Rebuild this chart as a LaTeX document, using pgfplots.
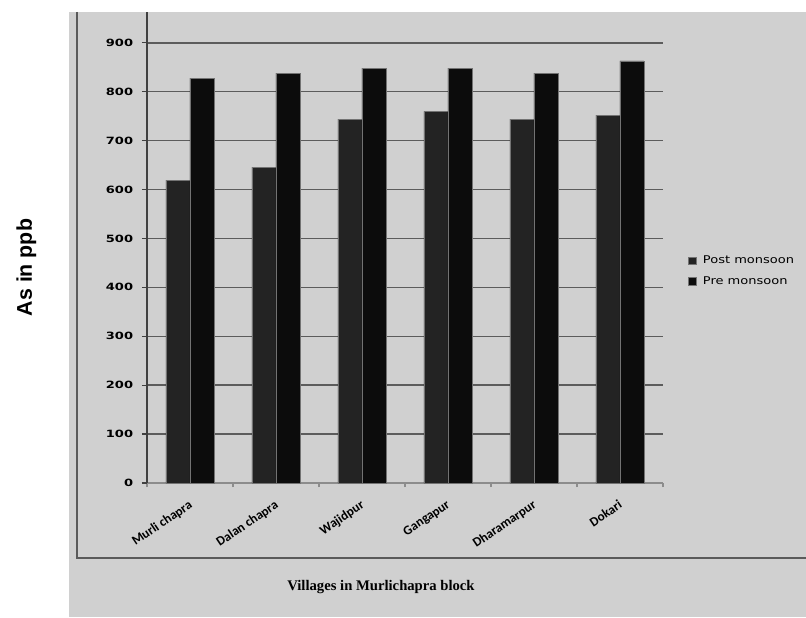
\documentclass[border=0pt]{standalone}
\usepackage{fontspec}
\usepackage{pgfplots}
\usepackage{pgfplotstable}
\pgfplotsset{compat=1.18}
\setmainfont{DejaVu Sans}
\newfontfamily\tickfont[FakeStretch=1.3]{DejaVu Sans}
\newfontfamily\legfont[FakeStretch=1.22]{DejaVu Sans}
\newfontfamily\catfont{Carlito}
\newfontfamily\titlefont{Liberation Serif}
\newfontfamily\ylabfont{Liberation Sans}

\definecolor{panel}{HTML}{D0D0D0}
\definecolor{postc}{HTML}{232323}
\definecolor{prec}{HTML}{0C0C0C}
\definecolor{gridc}{HTML}{5C5C5C}
\definecolor{framec}{HTML}{5A5A5A}

% arsenic (ppb) by village, post- and pre-monsoon
\pgfplotstableread{
idx post pre
0 619 828
1 646 838
2 744 848
3 760 848
4 744 838
5 752 863
}\arsenic

% small square swatches in the legend
\pgfplotsset{/pgfplots/ybar legend/.style={
  /pgfplots/legend image code/.code={%
    \fill[##1] (0pt,-2.75pt) rectangle (6pt,2.75pt);
    \path (10.5pt,0pt);}}}

\begin{document}
\begin{tikzpicture}
% page and grey panel
\fill[white] (-110.25pt,-100.5pt) rectangle (494.25pt,362.25pt);
\fill[panel] (-58.5pt,-100.5pt) rectangle (494.25pt,353.25pt);
\draw[framec, line width=1.1pt] (-52.5pt,353.25pt) -- (-52.5pt,-56.25pt) -- (494.25pt,-56.25pt);

\begin{axis}[
  at={(0pt,0pt)}, anchor=south west, scale only axis,
  width=387pt, height=353.25pt,
  ymin=0, ymax=963, xmin=-0.5, xmax=5.5,
  ybar=0pt, bar width=18pt,
  axis lines*=left,
  x axis line style={-, draw=black!45, line width=1pt},
  y axis line style={-, draw=black!75, line width=1.4pt},
  ytick={0,100,...,900},
  xtick={0,...,5},
  xticklabels={Murli chapra, Dalan chapra, Wajidpur, Gangapur, Dharamarpur, Dokari},
  minor xtick={-0.5,0.5,...,5.5},
  tick align=outside,
  major tick length=3.75pt, minor tick length=3pt,
  major x tick style={draw=none},
  minor x tick style={draw=black!45, line width=0.9pt},
  major y tick style={draw=black!75, line width=1pt},
  ymajorgrids, grid style={draw=gridc, line width=1.1pt},
  /pgf/number format/assume math mode=true,
  yticklabel style={font=\tickfont\bfseries\fontsize{7.5}{8}\selectfont, inner sep=0pt, anchor=east, xshift=-6.5pt},
  xticklabel style={font=\catfont\bfseries\fontsize{9.8}{11}\selectfont, rotate=34, anchor=north east, inner sep=0pt, yshift=-6pt, xshift=-6pt},
  legend style={at={(1.0484,0.4501)}, anchor=west, draw=none, fill=none, inner sep=0pt,
    row sep=8pt, font=\legfont\fontsize{8}{9}\selectfont, nodes={inner sep=0pt}},
  legend cell align=left,
]
\addplot[fill=postc, draw=black!55, line width=0.5pt] table[x=idx,y=post]{\arsenic};
\addplot[fill=prec, draw=black!55, line width=0.5pt] table[x=idx,y=pre]{\arsenic};
\addlegendentry{Post monsoon}
\addlegendentry{Pre monsoon}
\end{axis}

\node[font=\ylabfont\bfseries\fontsize{16}{19}\selectfont, rotate=90, anchor=base] at (-86.25pt,161.6pt) {As in ppb};
\node[font=\titlefont\bfseries\fontsize{11}{13}\selectfont, anchor=base] at (175.5pt,-80.5pt) {Villages in Murlichapra block};

\pgfresetboundingbox
\useasboundingbox (-110.25pt,-100.5pt) rectangle (494.25pt,362.25pt);
\end{tikzpicture}
\end{document}
